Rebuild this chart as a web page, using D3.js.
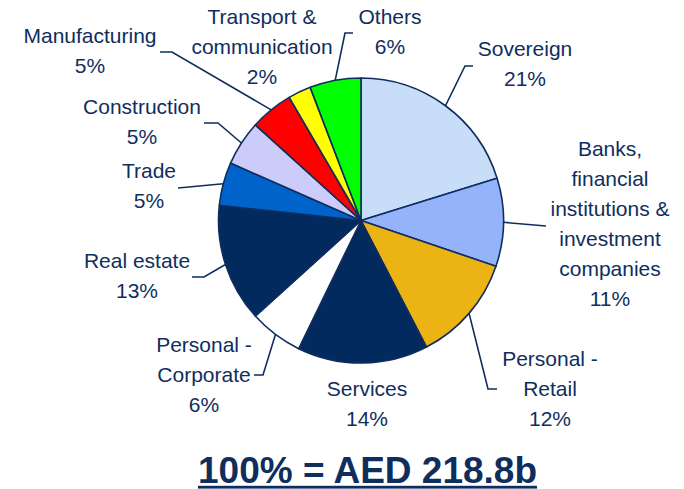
<!DOCTYPE html>
<html>
<head>
<meta charset="utf-8">
<script src="https://cdn.jsdelivr.net/npm/d3@7"></script>
<style>
  body { margin: 0; background: #fff; }
  text { font-family: "Liberation Sans", Arial, sans-serif; }
</style>
</head>
<body>
<div id="chart"></div>
<script>
// sectors, clockwise from 12 o'clock
var categories = ["Sovereign", "Banks, financial institutions & investment companies",
  "Personal - Retail", "Services", "Personal - Corporate", "Real estate", "Trade",
  "Construction", "Manufacturing", "Transport & communication", "Others"];
// share of the pie as drawn
var shares = [20.2, 10.0, 12.2, 14.8, 6.1, 13.4, 4.9, 5.1, 4.9, 2.6, 5.8];
// percentages printed on the labels
var pctLabels = ["21%", "11%", "12%", "14%", "6%", "13%", "5%", "5%", "5%", "2%", "6%"];
var labelLines = [["Sovereign"], ["Banks,", "financial", "institutions &", "investment", "companies"],
  ["Personal -", "Retail"], ["Services"], ["Personal -", "Corporate"], ["Real estate"], ["Trade"],
  ["Construction"], ["Manufacturing"], ["Transport &", "communication"], ["Others"]];
var colors = ["#c8ddf8", "#94b3fa", "#ebb314", "#022a5e", "#ffffff", "#022a5e", "#0063cc",
  "#ccccfa", "#ff0000", "#ffff00", "#00ff00"];
var totalText = "100% = AED 218.8b";

// label placement: x, first baseline; leader elbow / end (null = none)
var layout = [
  {x: 525, y: 56,  elbow: [465, 66],  end: [473, 66]},
  {x: 610, y: 156, elbow: null,       end: [546, 226]},
  {x: 550, y: 366, elbow: [488, 389], end: [497, 389]},
  {x: 367, y: 396, elbow: null,       end: null},
  {x: 204, y: 352, elbow: [263, 375], end: [254, 375]},
  {x: 137, y: 268, elbow: [204, 277], end: [192, 277]},
  {x: 149, y: 178, elbow: null,       end: [178, 188]},
  {x: 142, y: 114, elbow: [218, 123], end: [204, 123]},
  {x: 90,  y: 43,  elbow: [172, 52],  end: [160, 52]},
  {x: 262, y: 24,  elbow: null,       end: null},
  {x: 390, y: 24,  elbow: [345, 33],  end: [353, 33]}
];

var width = 684, height = 489;
var cx = 361, cy = 220.5, radius = 142.5;
var navy = "#0f2e5e";

var svg = d3.select("#chart")
  .append("svg")
    .attr("width", width)
    .attr("height", height);

var data = categories.map(function(c, i) { return {name: c, value: shares[i], i: i}; });

var pie = d3.pie()
  .sort(null)
  .value(function(d) { return d.value; });

var arc = d3.arc()
  .innerRadius(0)
  .outerRadius(radius);

var arcs = pie(data);

var g = svg.append("g")
  .attr("transform", "translate(" + cx + "," + cy + ")");

g.selectAll("path")
  .data(arcs)
  .enter()
  .append("path")
    .attr("d", arc)
    .attr("fill", function(d) { return colors[d.data.i]; })
    .attr("stroke", navy)
    .attr("stroke-width", 1.6)
    .attr("stroke-linejoin", "round");

// leader lines from slice mid-angle on the rim
arcs.forEach(function(a) {
  var L = layout[a.data.i];
  if (!L.end) return;
  var mid = (a.startAngle + a.endAngle) / 2;
  var pts = [[cx + radius * Math.sin(mid), cy - radius * Math.cos(mid)]];
  if (L.elbow) pts.push(L.elbow);
  pts.push(L.end);
  svg.append("path")
    .attr("d", d3.line()(pts))
    .attr("fill", "none")
    .attr("stroke", navy)
    .attr("stroke-width", 1.6);
});

// labels
var lineH = 30;
data.forEach(function(d) {
  var L = layout[d.i];
  var lines = labelLines[d.i].concat([pctLabels[d.i]]);
  var t = svg.append("text")
    .attr("text-anchor", "middle")
    .attr("font-size", "21px")
    .attr("fill", navy);
  lines.forEach(function(s, k) {
    t.append("tspan")
      .attr("x", L.x)
      .attr("y", L.y + k * lineH)
      .text(s);
  });
});

// total, bold and underlined
var title = svg.append("text")
  .attr("x", 367.5)
  .attr("y", 483)
  .attr("text-anchor", "middle")
  .attr("font-size", "37px")
  .attr("font-weight", "bold")
  .attr("fill", navy)
  .text(totalText);

var tw = title.node().getComputedTextLength();
svg.append("rect")
  .attr("x", 367.5 - tw / 2)
  .attr("y", 485.8)
  .attr("width", tw)
  .attr("height", 2.8)
  .attr("fill", navy);
</script>
</body>
</html>
